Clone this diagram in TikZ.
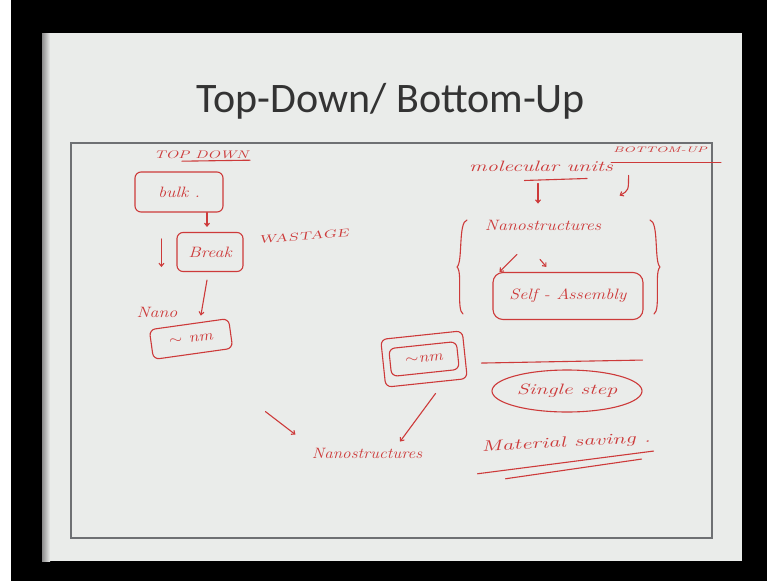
\documentclass[tikz,border=0pt]{standalone}
\usepackage{fontspec}
\newfontfamily\titlefont{Carlito}
\usetikzlibrary{positioning,arrows.meta,calc,shapes.geometric}
\definecolor{inkred}{RGB}{205,58,58}
\definecolor{slidebg}{RGB}{234,236,234}
\definecolor{framegray}{RGB}{110,112,115}
\tikzset{
  ink/.style={draw=inkred, line width=1.1pt, line cap=round, line join=round},
  inkbox/.style={ink, rounded corners=6pt, inner sep=0pt},
  hand/.style={text=inkred, font=\itshape\fontsize{15}{17}\selectfont, xscale=1.2, inner sep=1pt},
  caps/.style={hand, font=\itshape\fontsize{11}{13}\selectfont, xscale=1.27},
}

\begin{document}
\begin{tikzpicture}[x=1pt, y=-1pt, >={Straight Barb[length=3pt,width=5pt]}]
% screen and slide
\fill[black] (0,0) rectangle (767,581);
\fill[white] (0,0) rectangle (11,581);
\fill[slidebg] (42,33) rectangle (742,561);
\shade[left color=black!45, right color=slidebg] (42,33) rectangle (50,561);
\draw[framegray, line width=1.4pt] (71,143) rectangle (712,538);
\node[font=\titlefont\fontsize{42}{50}\selectfont, text=black!80, anchor=base] (title) at (391,112) {Top-Down/ Bottom-Up};

% top down side
\node[caps] (td) at (201,155) {TOP DOWN};
\node[inkbox, minimum width=88pt, minimum height=40pt] (bulk) at (179,192) {};
\node[hand] (bulkt) at (bulk) {bulk .};
\node[inkbox, minimum width=66pt, minimum height=39pt] (brk) at (210,252) {};
\node[hand] (brkt) at (brk) {Break};
\node[caps, xscale=1.12, rotate=8] (waste) at (303,236) {WASTAGE};
\node[hand] (nano) at (157,312) {Nano};
\node[inkbox, minimum width=80pt, minimum height=30pt, rotate=8] (nm) at (191,339) {};
\node[hand, rotate=8] (nmt) at (nm) {$\sim$ nm};

\draw[ink] ($(td.south west)+(30,1)$) -- ($(td.south east)+(0,0)$);
\draw[ink,->] ($(bulk.south)+(28,0)$) -- ($(brk.north)+(-3,-5)$);
\draw[ink,->] ($(brk.north west)+(-15,7)$) -- ($(brk.south west)+(-15,-5)$);
\draw[ink,->] ($(brk.south)+(-3,8)$) -- ($(nm.north)+(12,-8)$);

% bottom up side
\node[hand, xscale=1.22] (mol) at (541,166) {molecular units};
\node[caps, font=\itshape\fontsize{8}{10}\selectfont, xscale=1.13] (bu) at (660,150) {BOTTOM-UP};
\draw[ink] ($(bu.south west)+(0,8)$) -- ($(bu.south east)+(12,8)$);
\draw[ink] ($(mol.south west)+(57,8)$) -- ($(mol.south)+(46,6)$);
\node[hand] (nstr) at (543,225) {Nanostructures};
\node[inkbox, rounded corners=10pt, minimum width=150pt, minimum height=47pt] (self) at (568,296) {};
\node[hand] (selft) at (self) {Self - Assembly};
\draw[ink,->] ($(mol.south)+(-3,11)$) -- ($(nstr.north)+(-5,-15)$);
\draw[ink,->] ($(mol.south east)+(14,3)$) .. controls ($(mol.south east)+(14,18)$) .. ($(nstr.north east)+(17,-23)$);
\draw[ink,->] ($(nstr.south)+(-26,23)$) -- ($(self.north west)+(7,0)$);
\draw[ink,->] ($(nstr.south)+(-3,28)$) -- ($(self.north west)+(54,-5)$);
% braces
\draw[ink] (467,220) .. controls (458,222) and (463,262) .. (457,267) .. controls (463,272) and (456,310) .. (463,314);
\draw[ink] (650,220) .. controls (659,222) and (654,262) .. (660,267) .. controls (654,272) and (661,310) .. (654,314);

\node[inkbox, minimum width=68pt, minimum height=28pt, rotate=6] (nm2) at (424,359) {};
\node[inkbox, minimum width=82pt, minimum height=48pt, rotate=6] (nm2out) at (nm2) {};
\node[hand, rotate=6] (nm2t) at (nm2) {$\sim$nm};

\draw[ink] ($(self.south west)+(-11,43)$) -- ($(self.south east)+(-1,40)$);
\node[ink, ellipse, minimum width=150pt, minimum height=42pt] (single) at (567,391) {};
\node[hand, xscale=1.22] (singlet) at (single) {Single step};

\node[hand, xscale=0.95] (ns2) at (367,453) {Nanostructures};
\draw[ink,->] ($(nm2out.south)+(9,10)$) -- ($(ns2.north)+(33,-5)$);
\draw[ink,->] ($(ns2.north west)+(-45,-35)$) -- ($(ns2.north west)+(-15,-12)$);

\node[hand, xscale=1.3, rotate=5] (mat) at (566,443) {Material saving .};
\draw[ink] ($(mat.south west)+(-3,18)$) -- ($(mat.south east)+(0,5)$);
\draw[ink] ($(mat.south west)+(25,23)$) -- ($(mat.south east)+(-12,13)$);
\end{tikzpicture}
\end{document}
